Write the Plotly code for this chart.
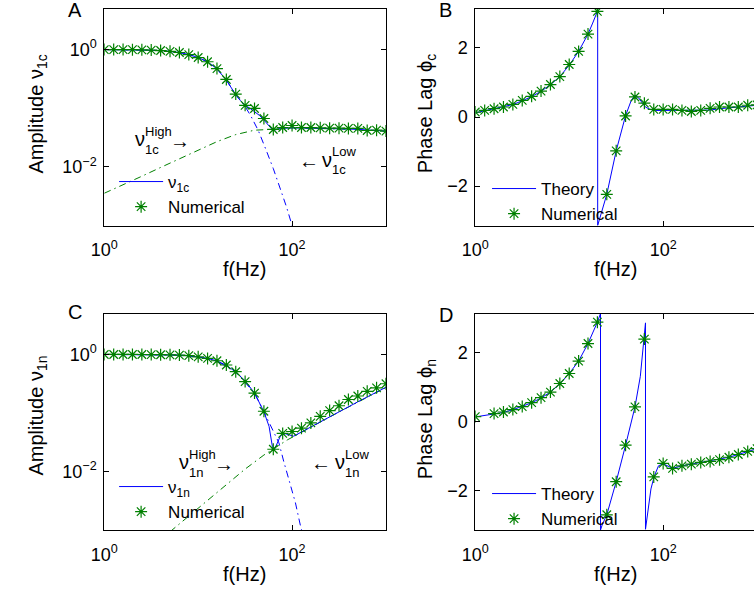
import plotly.graph_objects as go

W, H = 754, 594
FONT = "Liberation Sans, Arial, Helvetica, sans-serif"
BLUE = "#0000ff"
GREEN = "#008000"

# ---- simulation sample frequencies (Hz), ten per decade ----
freq = [1.0, 1.259, 1.585, 1.995, 2.512, 3.162, 3.981, 5.012, 6.310, 7.943,
        10.0, 12.59, 15.85, 19.95, 25.12, 31.62, 39.81, 50.12, 63.10, 79.43,
        100.0, 125.9, 158.5, 199.5, 251.2, 316.2, 398.1, 501.2, 631.0, 794.3, 1000.0]

# ---- panel A: amplitude of nu_1c ----
amp_c_num = [1.0, 1.0, 0.998, 0.995, 0.99, 0.978, 0.962, 0.933, 0.89, 0.82,
             0.731, 0.62, 0.474, 0.309, 0.174, 0.112, 0.099, 0.0668, 0.0434, 0.0468,
             0.0507, 0.0468, 0.0468, 0.0462, 0.0457, 0.0457, 0.0452, 0.0452, 0.0417, 0.0422, 0.0407]

f_amp_c = [1, 1.995, 3.162, 3.981, 5.012, 6.310, 7.943, 10, 12.59, 15.85, 19.95, 25.12, 28.18,
           31.62, 35.48, 39.81, 44.67, 50.12, 56.23, 60.26, 64.57, 69.18, 75.86, 100, 199.5,
           398.1, 631.0, 1000]
amp_c = [1.0, 0.995, 0.977, 0.964, 0.933, 0.891, 0.822, 0.731, 0.617, 0.468, 0.302, 0.170, 0.135,
         0.112, 0.1, 0.0871, 0.0759, 0.0631, 0.0501, 0.0447, 0.0422, 0.0437, 0.0452, 0.0462, 0.0457,
         0.0442, 0.0427, 0.0407]

f_amp_c_low = [1, 3.162, 5.012, 7.943, 10, 12.59, 15.85, 19.95, 25.12, 31.62, 36.31, 43.65,
               52.48, 63.10, 75.86, 87.10, 100, 104.7]
amp_c_low = [1.0, 0.977, 0.933, 0.822, 0.731, 0.617, 0.468, 0.302, 0.170, 0.107, 0.0741, 0.0417,
             0.02, 0.00933, 0.00398, 0.00209, 0.001, 0.000794]

f_amp_c_high = [1, 1.585, 2.512, 3.981, 6.310, 10, 15.85, 25.12, 39.81, 63.10, 100, 316.2, 1000]
amp_c_high = [0.00355, 0.0049, 0.00692, 0.00977, 0.0138, 0.0195, 0.0269, 0.0355, 0.0422, 0.0437,
              0.0462, 0.0442, 0.0407]

# ---- panel B: phase lag phi_c ----
phase_c_num = [0.144, 0.19, 0.24, 0.29, 0.365, 0.48, 0.60, 0.75, 0.94, 1.17,
               1.52, 1.90, 2.40, 3.06, -2.24, -0.98, 0.03, 0.58, 0.40, 0.22,
               0.22, 0.22, 0.19, 0.16, 0.19, 0.25, 0.29, 0.29, 0.29, 0.34, 0.35]

f_phase_c = [1, 1.259, 1.585, 1.995, 2.512, 3.162, 3.981, 5.012, 6.310, 7.943, 10, 12.59, 15.85,
             17.78, 19.95, 20.09, 20.09, 25.12, 31.62, 39.81, 45.71, 50.12, 54.95, 60.26, 64.57,
             72.44, 83.18, 100, 158.5, 251.2, 316.2, 398.1, 631.0, 1000]
phase_c = [0.12, 0.175, 0.23, 0.285, 0.36, 0.47, 0.59, 0.745, 0.935, 1.17, 1.5, 1.9, 2.4,
           2.72, 3.06, 3.1416, -3.1416, -2.24, -0.98, 0.04, 0.48, 0.63, 0.55, 0.40, 0.29,
           0.22, 0.19, 0.19, 0.19, 0.18, 0.2, 0.24, 0.28, 0.34]

# ---- panel C: amplitude of nu_1n ----
amp_n_num = [1.0, 1.0, 1.0, 1.0, 0.998, 0.995, 0.99, 0.984, 0.975, 0.955,
             0.912, 0.855, 0.78, 0.661, 0.507, 0.344, 0.219, 0.107, 0.024, 0.0447,
             0.0482, 0.055, 0.0676, 0.0877, 0.11, 0.133, 0.17, 0.195, 0.234, 0.269, 0.316]

f_amp_n = [1, 3.162, 5.012, 6.310, 7.943, 10, 12.59, 15.85, 19.95, 25.12, 31.62, 39.81, 50.12,
           56.89, 61.66, 64.27, 69.66, 75.51, 85.11, 104.0, 125.9, 162.2, 205.6, 309.0, 501.2,
           707.9, 1000]
amp_n = [1.0, 0.998, 0.986, 0.975, 0.955, 0.912, 0.855, 0.776, 0.653, 0.501, 0.355, 0.219, 0.105,
         0.0589, 0.0269, 0.0229, 0.0309, 0.0412, 0.0441, 0.0401, 0.0473, 0.0589, 0.0733, 0.1035,
         0.155, 0.2065, 0.275]

f_amp_n_low = [1, 5.012, 10, 15.85, 25.12, 39.81, 50.12, 58.88, 72.44, 81.28, 92.26, 108.4,
               123.0, 128.8]
amp_n_low = [1.0, 0.986, 0.912, 0.776, 0.501, 0.219, 0.105, 0.0631, 0.0309, 0.0151, 0.00741,
             0.00295, 0.00117, 0.000891]

f_amp_n_high = [5.012, 10, 17.78, 31.62, 50.12, 70.79, 89.13, 104.7, 125.9, 162.2, 205.6, 309.0,
                501.2, 707.9, 1000]
amp_n_high = [0.000933, 0.00234, 0.00513, 0.011, 0.0191, 0.0275, 0.0347, 0.0398, 0.0468, 0.0582,
              0.0724, 0.102, 0.153, 0.204, 0.272]

# ---- panel D: phase lag phi_n ----
phase_n_num = [0.15, None, 0.237, 0.283, 0.353, 0.44, 0.555, 0.70, 0.86, 1.11,
               1.40, 1.76, 2.27, 2.89, -2.70, -1.74, -0.68, 0.43, 2.40, -1.60,
               -1.21, -1.355, -1.28, -1.23, -1.18, -1.15, -1.10, -1.03, -0.95, -0.86, -0.78]

f_phase_n = [1, 1.585, 1.995, 2.512, 3.162, 3.981, 5.012, 6.310, 7.943, 10, 12.59, 15.85, 19.95,
             21.53, 21.53, 22.39, 25.12, 31.62, 39.81, 50.12, 57.15, 61.66, 64.86, 64.86, 69.82,
             74.13, 79.98, 89.13, 100, 112.2, 125.9, 158.5, 199.5, 251.2, 316.2, 398.1, 501.2,
             631.0, 794.3, 1000]
phase_n = [0.14, 0.22, 0.27, 0.35, 0.44, 0.55, 0.69, 0.86, 1.10, 1.40, 1.76, 2.27, 2.89,
           3.1416, -3.1416, -3.0, -2.70, -1.74, -0.68, 0.43, 1.32, 2.2, 2.87, -3.12, -2.39,
           -1.95, -1.6, -1.28, -1.22, -1.29, -1.35, -1.28, -1.23, -1.18, -1.15, -1.10, -1.03,
           -0.95, -0.86, -0.78]

# ---- tick labels ----
x_tickvals = [1, 100]
x_ticktext = ["10<sup>0</sup>", "10<sup>2</sup>"]
amp_tickvals = [1, 0.01]
amp_ticktext = ["10<sup>0</sup>", "10<sup>\u22122</sup>"]
phase_tickvals = [-2, 0, 2]
phase_ticktext = ["\u22122", "0", "2"]

DASHDOT = "7px,4px,1.5px,4px"


def line(x, y, ax, color, dash="solid", name=None, legend=None):
    return go.Scatter(x=x, y=y, mode="lines", xaxis="x" + ax, yaxis="y" + ax,
                      line=dict(color=color, width=1, dash=dash), name=name,
                      showlegend=name is not None, legend=legend, hoverinfo="skip")


def stars(y, ax, legend):
    return go.Scatter(x=freq, y=y, mode="markers", xaxis="x" + ax, yaxis="y" + ax,
                      marker=dict(symbol="asterisk-open", size=10, color=GREEN,
                                  line=dict(color=GREEN, width=1.2)),
                      name="Numerical", legend=legend, hoverinfo="skip")


fig = go.Figure()
# A
fig.add_trace(line(f_amp_c_high, amp_c_high, "", GREEN, DASHDOT))
fig.add_trace(line(f_amp_c_low, amp_c_low, "", BLUE, DASHDOT))
fig.add_trace(line(f_amp_c, amp_c, "", BLUE, name="\u03bd<sub>1c</sub>", legend="legend"))
fig.add_trace(stars(amp_c_num, "", "legend"))
# B
fig.add_trace(line(f_phase_c, phase_c, "2", BLUE, name="Theory", legend="legend2"))
fig.add_trace(stars(phase_c_num, "2", "legend2"))
# C
fig.add_trace(line(f_amp_n_high, amp_n_high, "3", GREEN, DASHDOT))
fig.add_trace(line(f_amp_n_low, amp_n_low, "3", BLUE, DASHDOT))
fig.add_trace(line(f_amp_n, amp_n, "3", BLUE, name="\u03bd<sub>1n</sub>", legend="legend3"))
fig.add_trace(stars(amp_n_num, "3", "legend3"))
# D
fig.add_trace(line(f_phase_n, phase_n, "4", BLUE, name="Theory", legend="legend4"))
fig.add_trace(stars(phase_n_num, "4", "legend4"))


def px(x, y):
    return x / W, 1 - y / H


def frame(**kw):
    base = dict(showline=True, linecolor="black", linewidth=1, ticks="inside", ticklen=5,
                tickwidth=1, tickcolor="black", showgrid=False, zeroline=False,
                tickfont=dict(size=18, color="black", family=FONT))
    base.update(kw)
    return base


left_x = [92 / W, 379 / W]
right_x = [470 / W, 1.0]
top_y = [1 - 225.5 / H, 1 - 8.5 / H]
bot_y = [1 - 530 / H, 1 - 313.5 / H]

xa = dict(type="log", tickvals=x_tickvals, ticktext=x_ticktext, ticklabelstandoff=8)
layout_axes = dict(
    xaxis=frame(domain=left_x, range=[0, 3], anchor="y", mirror="ticks", **xa),
    yaxis=frame(domain=top_y, type="log", range=[-3, 0.7], anchor="x", mirror="ticks",
                tickvals=amp_tickvals, ticktext=amp_ticktext, ticklabelstandoff=3),
    xaxis2=frame(domain=right_x, range=[0, 2.967], anchor="y2", mirror="ticks", **xa),
    yaxis2=frame(domain=top_y, range=[-3.1416, 3.1416], anchor="x2", mirror=False,
                 tickvals=phase_tickvals, ticktext=phase_ticktext, ticklabelstandoff=3),
    xaxis3=frame(domain=left_x, range=[0, 3], anchor="y3", mirror="ticks", **xa),
    yaxis3=frame(domain=bot_y, type="log", range=[-3, 0.7], anchor="x3", mirror="ticks",
                 tickvals=amp_tickvals, ticktext=amp_ticktext, ticklabelstandoff=3),
    xaxis4=frame(domain=right_x, range=[0, 2.967], anchor="y4", mirror="ticks", **xa),
    yaxis4=frame(domain=bot_y, range=[-3.1416, 3.1416], anchor="x4", mirror=False,
                 tickvals=phase_tickvals, ticktext=phase_ticktext, ticklabelstandoff=3),
)


def legend_at(x, y):
    lx, ly = px(x, y)
    return dict(x=lx, y=ly, xanchor="left", yanchor="top", bgcolor="rgba(0,0,0,0)",
                borderwidth=0, font=dict(size=17, color="black", family=FONT),
                tracegroupgap=0, itemwidth=44)


annotations = []


def text(x, y, s, size=20, xanchor="center", yanchor="middle", angle=0):
    ax_, ay_ = px(x, y)
    annotations.append(dict(x=ax_, y=ay_, xref="paper", yref="paper", text=s, showarrow=False,
                            xanchor=xanchor, yanchor=yanchor, textangle=angle,
                            font=dict(size=size, color="black", family=FONT)))


# panel letters
text(62, 10, "A")
text(440, 10, "B")
text(62, 312, "C")
text(440, 315, "D")

# axis titles
text(235, 269, "f(Hz)")
text(613, 269, "f(Hz)")
text(235, 574, "f(Hz)")
text(613, 574, "f(Hz)")
text(23, 114, "Amplitude \u03bd<sub>1c</sub>", angle=-90)
text(420, 114, "Phase Lag \u03d5<sub>c</sub>", angle=-90)
text(23, 416, "Amplitude \u03bd<sub>1n</sub>", angle=-90)
text(420, 419, "Phase Lag \u03d5<sub>n</sub>", angle=-90)


def component_label(x, y, sup, sub, arrow_side):
    """nu with stacked super/subscript plus an arrow; (x, y) = left edge / centre of nu."""
    if arrow_side == "left":
        text(x - 24, y + 1, "\u2190", size=20, xanchor="left")
    text(x, y, "\u03bd", size=20, xanchor="left")
    text(x + 10, y - 8, sup, size=13, xanchor="left")
    text(x + 10, y + 10, sub, size=13, xanchor="left")
    if arrow_side == "right":
        text(x + 36, y + 2, "\u2192", size=20, xanchor="left")


component_label(121, 139, "High", "1c", "right")
component_label(312, 160, "Low", "1c", "left")
component_label(166, 462, "High", "1n", "right")
component_label(325, 462, "Low", "1n", "left")

fig.update_layout(
    width=W, height=H, autosize=False,
    margin=dict(l=0, r=0, t=0, b=0),
    paper_bgcolor="white", plot_bgcolor="white",
    font=dict(family=FONT, size=18, color="black"),
    legend=legend_at(102, 164),
    legend2=legend_at(482, 171),
    legend3=legend_at(102, 469),
    legend4=legend_at(482, 476),
    annotations=annotations,
    **layout_axes,
)

fig.write_html("out.html")
